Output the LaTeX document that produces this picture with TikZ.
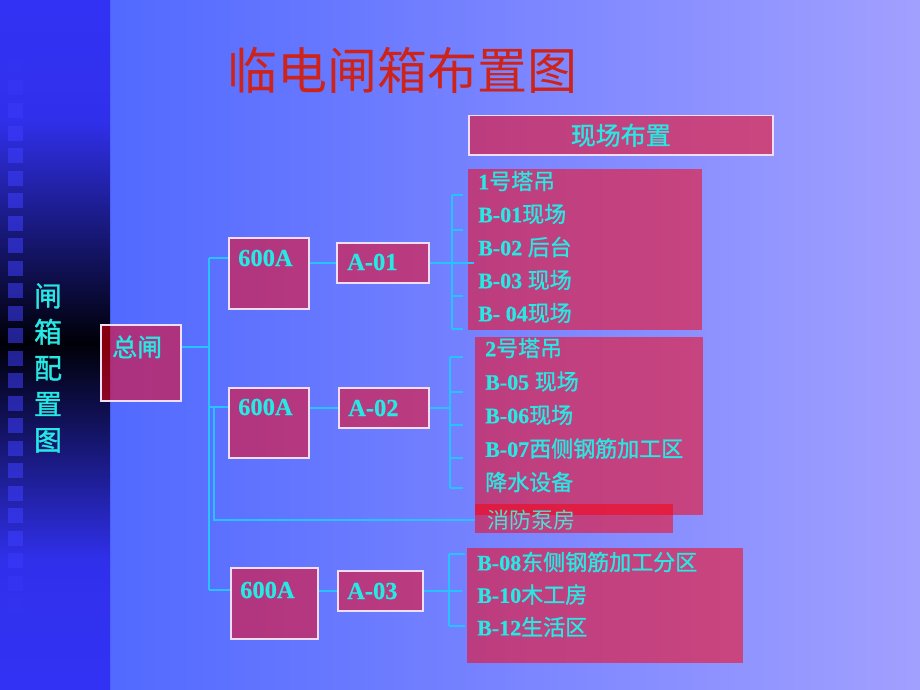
\documentclass[tikz,border=0pt]{standalone}
\usepackage{fontspec}
\setmainfont{Liberation Serif}
\newfontfamily\latb{Liberation Serif Bold}[FakeBold=0.6]
\newfontfamily\cjk{Noto Sans CJK SC}
\newfontfamily\cjkb{Noto Sans CJK SC}[FakeBold=1.2]
\newcommand{\zh}[1]{{\cjkb #1}}
\definecolor{boxred}{RGB}{252,0,14}
\definecolor{wirecol}{RGB}{40,195,255}
\definecolor{txtcyan}{RGB}{40,232,228}
\definecolor{pumpcyan}{RGB}{80,222,212}
\definecolor{edgecol}{RGB}{240,222,245}
\definecolor{titlered}{RGB}{205,35,25}
\definecolor{bgleft}{RGB}{70,98,255}
\definecolor{bgright}{RGB}{162,160,255}
\definecolor{barblue}{RGB}{50,50,245}
\definecolor{sqblue}{RGB}{62,62,255}
\tikzset{
  panel/.style={fill=boxred, fill opacity=0.53, draw=edgecol, line width=1.5pt, inner sep=0pt, anchor=north west},
  sheet/.style={fill=boxred, fill opacity=0.53, inner sep=0pt, anchor=north west},
  wire/.style={draw=wirecol, line width=1.5pt},
  lbl/.style={text=txtcyan, font=\latb\fontsize{24.5}{29}\selectfont, inner sep=0pt, anchor=west},
  item/.style={text=txtcyan, font=\latb\fontsize{22}{26}\selectfont, inner sep=0pt, anchor=west},
}
\begin{document}
\begin{tikzpicture}[x=1pt, y=-1pt]
\useasboundingbox (0,0) rectangle (920,690);
% background and side bar
\shade[left color=bgleft, right color=bgright] (0,0) rectangle (920,690);
\shade[top color=barblue, bottom color=barblue!96!black] (0,0) rectangle (110,120);
\shade[top color=barblue!96!black, bottom color=black!97!blue] (0,120) rectangle (110,343);
\shade[top color=black!97!blue, bottom color=barblue!96!black] (0,343) rectangle (110,560);
\shade[top color=barblue!96!black, bottom color=barblue] (0,560) rectangle (110,690);
\foreach \i in {0,...,24} {
  \pgfmathsetmacro\o{0.55*min(1,(\i+1)/4,(25-\i)/4)}
  \fill[sqblue, opacity=\o] (8,58+22.5*\i) rectangle ++(15,15);
}
\node[text=txtcyan, font=\cjkb\fontsize{28}{36}\selectfont, align=center, inner sep=0pt] (side) at (48,368) {闸\\箱\\配\\置\\图};
\node[text=titlered, font=\cjk\fontsize{50}{60}\selectfont, inner sep=0pt, anchor=west] (title) at (227,70) {临电闸箱布置图};

% boxes
\node[panel, minimum width=80pt, minimum height=76pt] (main) at (100,324) {};
\node[panel, minimum width=80pt, minimum height=71pt] (s1) at (228,237) {};
\node[panel, minimum width=80pt, minimum height=70pt] (s2) at (228,387) {};
\node[panel, minimum width=87pt, minimum height=71pt] (s3) at (230,567) {};
\node[panel, minimum width=92pt, minimum height=40pt] (a1) at (336,242) {};
\node[panel, minimum width=90pt, minimum height=40pt] (a2) at (338,387) {};
\node[panel, minimum width=85pt, minimum height=40pt] (a3) at (337,570) {};
\node[panel, minimum width=304pt, minimum height=39pt] (head) at (468,115) {};
\node[sheet, minimum width=234pt, minimum height=161pt] (list1) at (468,169) {};
\node[sheet, minimum width=228pt, minimum height=178pt] (list2) at (475,337) {};
\node[sheet, minimum width=198pt, minimum height=29pt] (pump) at (475,504) {};
\node[sheet, minimum width=276pt, minimum height=115pt] (list3) at (467,548) {};

% labels
\node[lbl, font=\cjkb\fontsize{25}{30}\selectfont] (mt) at (112,347) {总闸};
\node[lbl] (l1) at (238,258) {600A};
\node[lbl] (l2) at (238,407) {600A};
\node[lbl] (l3) at (240,590) {600A};
\node[lbl] (m1) at (347,262) {A-01};
\node[lbl] (m2) at (348,408) {A-02};
\node[lbl] (m3) at (347,591) {A-03};
\node[text=txtcyan, font=\cjkb\fontsize{25}{30}\selectfont, inner sep=0pt] (ht) at (head.center) {现场布置};
\foreach \t [count=\i from 0] in {1\zh{号塔吊}, B-01\zh{现场}, B-02 \zh{后台}, B-03 \zh{现场}, B- 04\zh{现场}}
  \node[item] (r1\i) at (478,181+33*\i) {\t};
\foreach \t [count=\i from 0] in {2\zh{号塔吊}, B-05 \zh{现场}, B-06\zh{现场}, B-07\zh{西侧钢筋加工区}, \zh{降水设备}}
  \node[item] (r2\i) at (485,348+33.5*\i) {\t};
\foreach \t [count=\i from 0] in {B-08\zh{东侧钢筋加工分区}, B-10\zh{木工房}, B-12\zh{生活区}}
  \node[item] (r3\i) at (477,562+32.5*\i) {\t};
\node[item, text=pumpcyan, font=\cjk\fontsize{22}{26}\selectfont] (pt) at (487,520) {消防泵房};

% connectors
\coordinate (tr) at (209,0);
\coordinate (tq) at (214,0);
\draw[wire] (main.east |- mt) -- (tr |- mt);
\draw[wire] (tr |- l1) -- (tr |- l3);
\foreach \n in {1,2,3} {
  \draw[wire] (tr |- l\n) -- (s\n.west |- l\n);
  \draw[wire] (s\n.east |- a\n) -- (a\n.west);
}
\draw[wire] (tq |- l2) -- (tq |- pt) -- (pump.west |- pt);
% brackets
\coordinate (k1) at (452,195);
\coordinate (k2) at (450,357);
\coordinate (k3) at (449,554);
\draw[wire] (a1.east) -- ++(44,0);
\draw[wire] (k1) -- (k1 |- 0,329);
\foreach \y in {195,230,296,329} \draw[wire] (k1 |- 0,\y) -- ++(11,0);
\draw[wire] (a2.east) -- (k2 |- a2);
\draw[wire] (k2) -- (k2 |- 0,488);
\foreach \y in {357,392,425,458,488} \draw[wire] (k2 |- 0,\y) -- ++(13,0);
\draw[wire] (a3.east) -- ++(38,0);
\draw[wire] (k3) -- (k3 |- 0,626);
\foreach \y in {554,626} \draw[wire] (k3 |- 0,\y) -- ++(16,0);
\end{tikzpicture}
\end{document}
